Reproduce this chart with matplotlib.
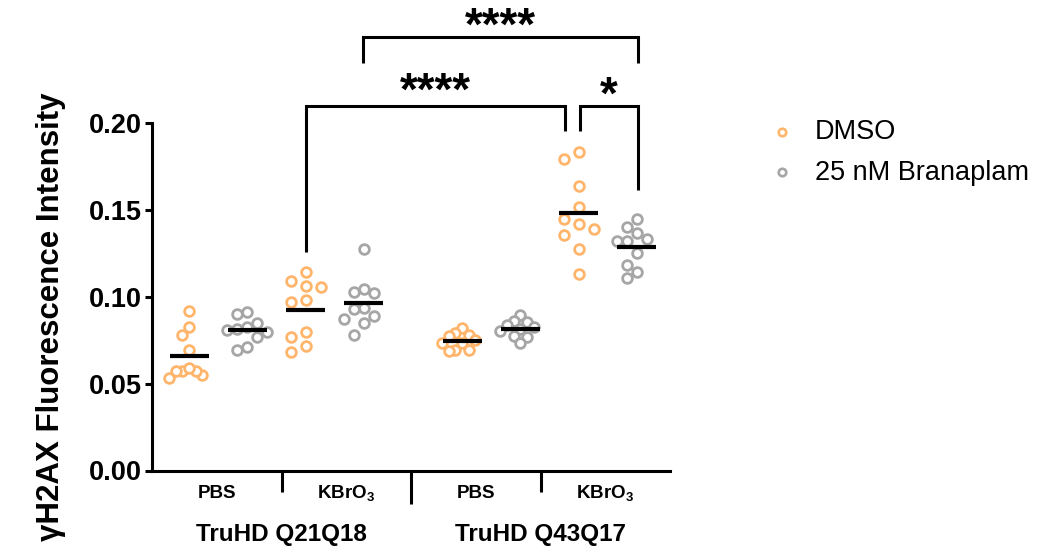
import numpy as np
import matplotlib
matplotlib.use("Agg")
import matplotlib.pyplot as plt
from matplotlib.lines import Line2D
from matplotlib.transforms import blended_transform_factory

plt.rcParams['font.family'] = ['Liberation Sans', 'DejaVu Sans']
plt.rcParams['mathtext.fontset'] = 'custom'
plt.rcParams['mathtext.rm'] = 'Liberation Sans'
plt.rcParams['mathtext.bf'] = 'Liberation Sans:bold'
plt.rcParams['mathtext.it'] = 'Liberation Sans:italic'

# ---- data -------------------------------------------------------------
genotypes = ["TruHD Q21Q18", "TruHD Q43Q17"]
treatments = ["PBS", r"KBrO$_{\mathbf{3}}$"]
series = ["DMSO", "25 nM Branaplam"]
colors = ["#FFB56B", "#A6A6A6"]
y_label = "γH2AX Fluorescence Intensity"
y_ticks = [0.00, 0.05, 0.10, 0.15, 0.20]

q21_pbs_dmso = [0.0920, 0.0825, 0.0780, 0.0695, 0.0548, 0.0575, 0.0572, 0.0575, 0.0589, 0.0535]
q21_pbs_bran = [0.0900, 0.0910, 0.0847, 0.0808, 0.0799, 0.0812, 0.0824, 0.0770, 0.0693, 0.0708]
q21_kbro3_dmso = [0.1140, 0.1088, 0.1055, 0.1059, 0.0982, 0.0972, 0.0770, 0.0799, 0.0716, 0.0683]
q21_kbro3_bran = [0.1277, 0.1030, 0.1024, 0.1044, 0.0934, 0.0930, 0.0889, 0.0851, 0.0870, 0.0780]
q43_pbs_dmso = [0.0818, 0.0789, 0.0780, 0.0774, 0.0752, 0.0735, 0.0731, 0.0695, 0.0693, 0.0689]
q43_pbs_bran = [0.0895, 0.0855, 0.0862, 0.0837, 0.0815, 0.0825, 0.0805, 0.0775, 0.0770, 0.0731]
q43_kbro3_dmso = [0.1835, 0.1790, 0.1640, 0.1515, 0.1445, 0.1416, 0.1390, 0.1358, 0.1275, 0.1132]
q43_kbro3_bran = [0.1450, 0.1367, 0.1402, 0.1319, 0.1323, 0.1334, 0.1252, 0.1184, 0.1140, 0.1107]

groups = [q21_pbs_dmso, q21_pbs_bran, q21_kbro3_dmso, q21_kbro3_bran,
          q43_pbs_dmso, q43_pbs_bran, q43_kbro3_dmso, q43_kbro3_bran]
group_series = [0, 1, 0, 1, 0, 1, 0, 1]

# (left group, right group, label)
comparisons = [(2, 6, "****"), (6, 7, "*"), (3, 7, "****")]

# ---- layout -----------------------------------------------------------
GENO_GAP = 0.69
positions = [i + (GENO_GAP if i >= 4 else 0.0) for i in range(len(groups))]
XLIM = (-0.637, 8.26)
YLIM = (0.0, 0.20)

# bracket geometry: top level, leg ends (left, right), end nudges in px, label gap in px
bracket_geom = [
    dict(top=0.2098, legs=(0.1258, 0.1954), nudge=(0.0, -13.5), gap=13.5),
    dict(top=0.2098, legs=(0.1954, 0.1614), nudge=(1.5, 1.0), gap=9.5),
    dict(top=0.2495, legs=(0.2345, 0.2345), nudge=(-1.0, 1.0), gap=9.5),
]

W, H = 1047, 557
fig = plt.figure(figsize=(W / 100, H / 100), dpi=100)
ax = fig.add_axes([152 / W, (H - 470.5) / H, (670 - 152) / W, 347.5 / H])
ax.set_xlim(*XLIM)
ax.set_ylim(*YLIM)

LW = 2.2
for s in ("top", "right"):
    ax.spines[s].set_visible(False)
for s in ("left", "bottom"):
    ax.spines[s].set_linewidth(LW)
    ax.spines[s].set_capstyle("projecting")

# pixel scale of the data axes
p0 = ax.transData.transform((0, 0))
px_x = ax.transData.transform((1, 0))[0] - p0[0]
px_y = ax.transData.transform((0, 1))[1] - p0[1]


def column_scatter(values, d_px=12.5, step_px=15.0, limit_px=20.0):
    """Horizontal offsets (px): points that would overlap are moved to side columns."""
    y = np.asarray(values, float) * px_y
    col = np.zeros(len(y), int)
    placed = []
    order = [0]
    for k in range(1, 8):
        order += [-k, k]
    for i in np.argsort(-y):
        for k in order:
            if all(abs(y[i] - y[j]) >= d_px for j in placed if col[j] == k):
                col[i] = k
                break
        placed.append(i)
    off = col * step_px
    widest = np.abs(off).max()
    if widest > limit_px:
        off = off * (limit_px / widest)
    return off


MS, MEW = 7.0, 2.0
for vals, pos, si in zip(groups, positions, group_series):
    off = column_scatter(vals) / px_x
    ax.plot(pos + off, vals, linestyle="none", marker="o", ms=MS, mew=MEW,
            mfc="white", mec=colors[si], zorder=3, clip_on=False)
    m = np.mean(vals)
    half = 19.5 / px_x
    ax.plot([pos - half, pos + half], [m, m], color="black", lw=3.0,
            solid_capstyle="butt", zorder=4)

# y axis
ax.set_yticks(y_ticks)
ax.set_yticklabels([f"{t:.2f}" for t in y_ticks], fontsize=19.5, fontweight="bold")
ax.tick_params(axis="y", length=5, width=LW, pad=2)

# x axis: split into equal segments
span = XLIM[1] - XLIM[0]
ax.set_xticks([XLIM[0] + 0.5 * span])
ax.set_xticks([XLIM[0] + 0.25 * span, XLIM[0] + 0.75 * span], minor=True)
ax.set_xticklabels([])
ax.tick_params(axis="x", which="major", length=23.4, width=LW)
ax.tick_params(axis="x", which="minor", length=15.2, width=LW)

tr = blended_transform_factory(ax.transAxes, ax.transAxes)
for k in range(4):
    ax.text(0.125 + 0.25 * k, -0.079, treatments[k % 2], transform=tr,
            ha="center", va="baseline", fontsize=13.5, fontweight="bold")
for k, g in enumerate(genotypes):
    ax.text(0.25 + 0.5 * k, -0.204, g, transform=tr,
            ha="center", va="baseline", fontsize=17.5, fontweight="bold")

fig.text(51 / W, 1 - 316.5 / H, y_label, rotation=90, ha="center", va="center",
         fontsize=22.5, fontweight="bold")

# significance brackets
for (a, b, lab), g in zip(comparisons, bracket_geom):
    xa = positions[a] + g["nudge"][0] / px_x
    xb = positions[b] + g["nudge"][1] / px_x
    ax.plot([xa, xa, xb, xb], [g["legs"][0], g["top"], g["top"], g["legs"][1]],
            color="black", lw=LW, clip_on=False, solid_joinstyle="miter",
            solid_capstyle="butt", zorder=5)
    ax.annotate(lab, xy=((xa + xb) / 2, g["top"]), xytext=(0, g["gap"] * 0.72),
                textcoords="offset points", ha="center", va="center",
                fontsize=33, fontweight="bold", annotation_clip=False)

# legend
for k, name in enumerate(series):
    yb = 1 - (139.5 + 40 * k) / H
    ym = 1 - (131.7 + 40 * k) / H
    fig.add_artist(Line2D([781.7 / W], [ym], transform=fig.transFigure, linestyle="none",
                          marker="o", ms=5.4, mew=1.9, mfc="white", mec=colors[k]))
    fig.text(815 / W, yb, name, ha="left", va="baseline", fontsize=19.5)

fig.savefig("out.png", dpi=100)
